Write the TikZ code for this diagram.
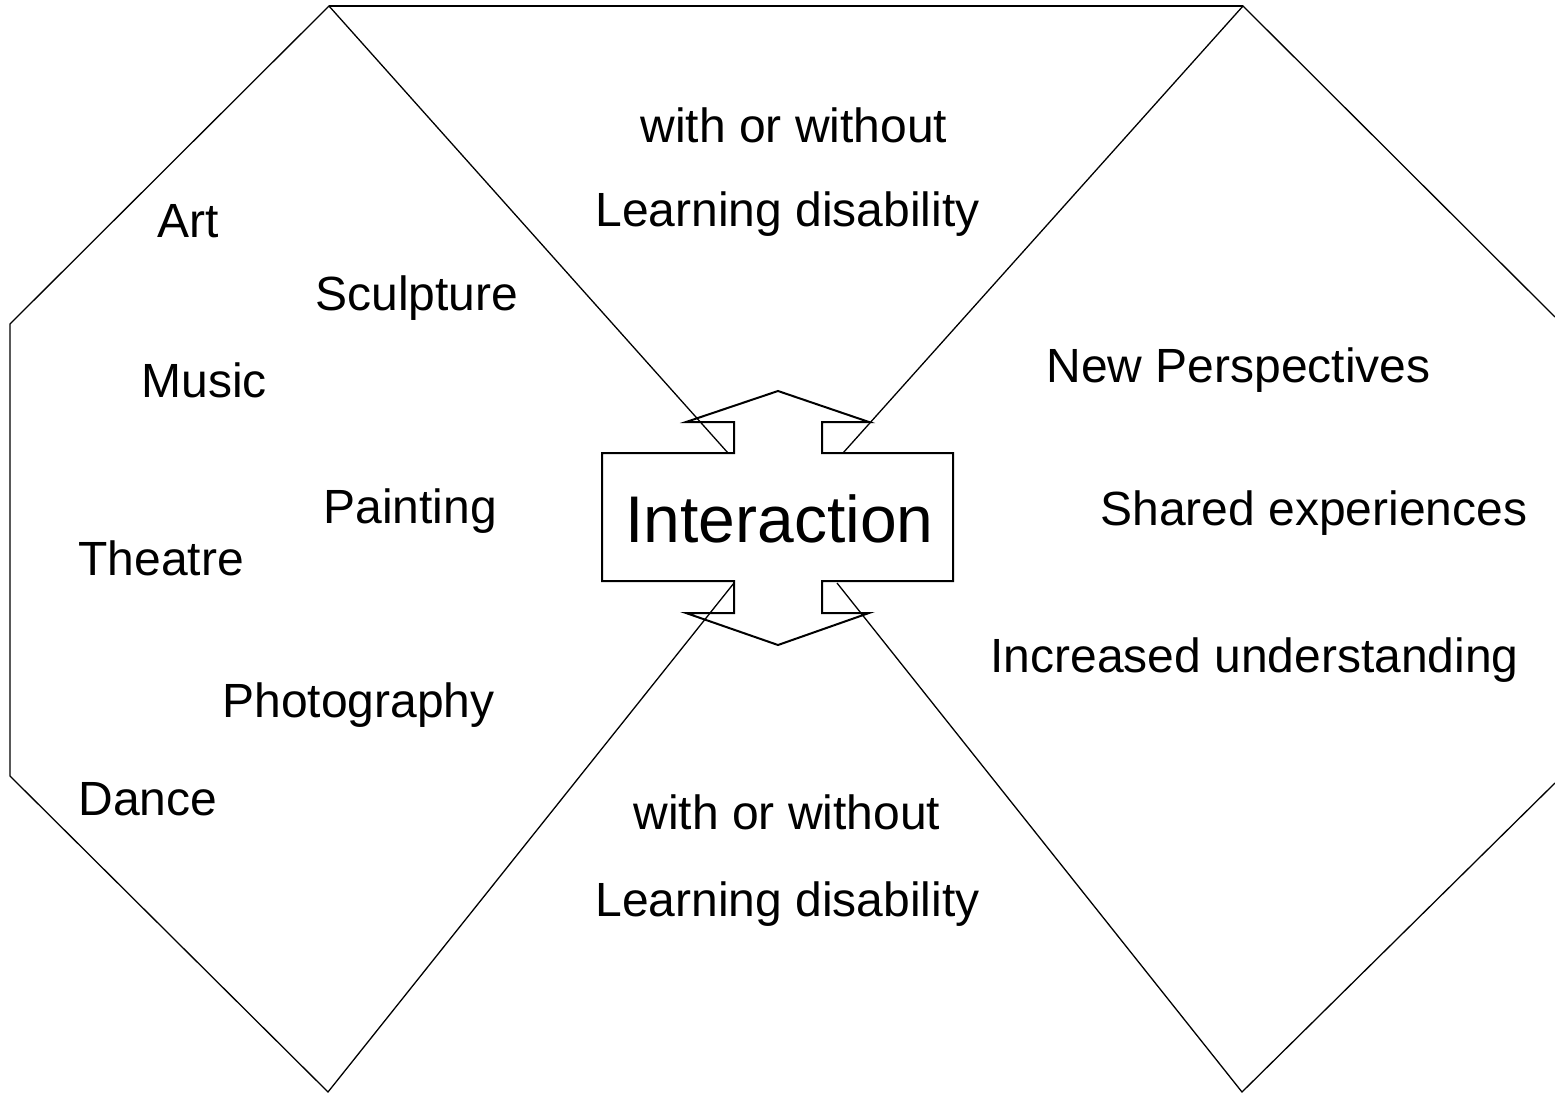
\documentclass[tikz,border=0pt]{standalone}
\usepackage{fontspec}
\setmainfont{Liberation Sans}
\begin{document}
\begin{tikzpicture}[x=0.5pt,y=-0.5pt,
  edge/.style={line width=0.65pt, line join=miter},
  arrowshape/.style={line width=1pt, fill=white, line join=miter},
  lbl/.style={anchor=base west, inner sep=0pt, font=\fontsize{24}{29}\selectfont},
  big/.style={anchor=base west, inner sep=0pt, font=\fontsize{33}{40}\selectfont}]
\useasboundingbox (0,0) rectangle (1555,1093);
% outline vertices
\coordinate (LT) at (329,6);
\coordinate (LTC) at (10,324);
\coordinate (LBC) at (10,776);
\coordinate (LB) at (328,1092);
\coordinate (RT) at (1243,6);
\coordinate (RTE) at (1555,317);
\coordinate (RBE) at (1555,783);
\coordinate (RB) at (1242,1092);
% central double arrow
\coordinate (tip) at (778,391);
\coordinate (bot) at (778,645);
\draw[arrowshape] (tip) -- (869,422) -- (822,422) -- (822,453) -- (953,453)
  -- (953,581) -- (822,581) -- (822,613) -- (869,613) -- (bot)
  -- (686,613) -- (734,613) -- (734,581) -- (602,581) -- (602,453)
  -- (734,453) -- (734,422) -- (686,422) -- cycle;
\coordinate (AUL) at (728,453);
\coordinate (AUR) at (843,453);
\coordinate (ALL) at (734,583);
\coordinate (ALR) at (837,583);
% outlines
\draw[edge] (AUL) -- (LT) -- (LTC) -- (LBC) -- (LB) -- (ALL);
\draw[edge] (LT) -- (RT);
\draw[edge] (AUR) -- (RT) -- (RTE);
\draw[edge] (ALR) -- (RB) -- (RBE);
% texts
\node[big] (inter) at (625,542) {Interaction};
\node[lbl] (w1) at (640,142) {with or without};
\node[lbl] (l1) at (595,226) {Learning disability};
\node[lbl] (w2) at (633,829) {with or without};
\node[lbl] (l2) at (595,916) {Learning disability};
\node[lbl] (art) at (157,237) {Art};
\node[lbl] (sculp) at (315,310) {Sculpture};
\node[lbl] (music) at (141,397) {Music};
\node[lbl] (paint) at (323,523) {Painting};
\node[lbl] (theatre) at (78,575) {Theatre};
\node[lbl] (photo) at (222,717) {Photography};
\node[lbl] (dance) at (78,815) {Dance};
\node[lbl] (newp) at (1046,382) {New Perspectives};
\node[lbl] (shared) at (1100,525) {Shared experiences};
\node[lbl] (incr) at (990,672) {Increased understanding};
\end{tikzpicture}
\end{document}
